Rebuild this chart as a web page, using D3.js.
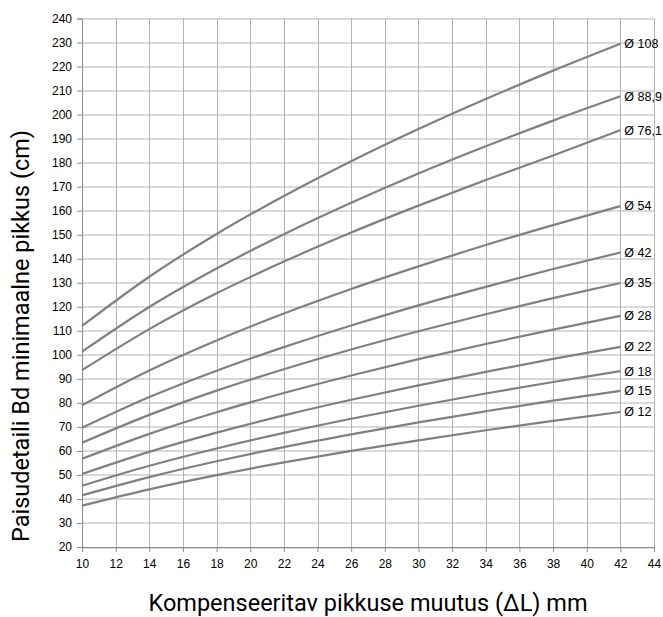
<!DOCTYPE html>
<html lang="et">
  <head>
    <meta charset="UTF-8" />
    <title>Paisudetaili Bd minimaalne pikkus</title>
    <style>
      body {
        margin: 0;
        background: #fff;
      }
      svg {
        display: block;
      }
      .tick text {
        font: 12px 'Liberation Sans', sans-serif;
        fill: #000;
      }
      .title {
        font: 23.5px Roboto, sans-serif;
        fill: #000;
      }
      .lbl {
        font: 12.5px 'Liberation Sans', sans-serif;
        fill: #000;
      }
    </style>
  </head>
  <body>
    <svg width="663" height="617"></svg>
    <script src="https://cdn.jsdelivr.net/npm/d3@7"></script>
    <script>
      // values at every 4 mm
      const deltaL = [10, 14, 18, 22, 26, 30, 34, 38, 42];
      const diameters = ['108', '88,9', '76,1', '54', '42', '35', '28', '22', '18', '15', '12'];
      const d108 = [112, 132.5, 150.3, 166.1, 180.6, 194.0, 206.5, 218.3, 229.5];
      const d889 = [101.3, 119.9, 135.9, 150.2, 163.3, 175.5, 186.8, 197.5, 207.6];
      const d761 = [93.6, 110.7, 125.6, 138.8, 150.9, 162.1, 172.8, 183, 193.5];
      const d54 = [79, 93.5, 106, 117.2, 127.4, 136.8, 145.7, 154, 161.9];
      const d42 = [69.6, 82.4, 93.4, 103.2, 112.2, 120.6, 128.3, 135.7, 142.6];
      const d35 = [63.4, 75, 85.1, 94, 102.2, 109.8, 116.9, 123.6, 129.9];
      const d28 = [56.7, 67.1, 76.1, 84.1, 91.4, 98.2, 104.5, 110.5, 116.2];
      const d22 = [50.4, 59.6, 67.6, 74.8, 81.3, 87.3, 92.9, 98.3, 103.3];
      const d18 = [45.5, 53.8, 61.0, 67.5, 73.4, 78.8, 83.9, 88.7, 93.2];
      const d15 = [41.5, 49.1, 55.7, 61.6, 66.9, 71.9, 76.5, 80.9, 85];
      const d12 = [37.2, 44, 49.9, 55.2, 60, 64.4, 68.6, 72.5, 76.2];
      const series = [d108, d889, d761, d54, d42, d35, d28, d22, d18, d15, d12];
      const xTicks = d3.range(10, 45, 2);
      const yTicks = d3.range(20, 241, 10);

      const svg = d3.select('svg'),
        margin = { top: 18.5, right: 9, bottom: 70, left: 82 },
        width = +svg.attr('width') - margin.left - margin.right,
        height = +svg.attr('height') - margin.top - margin.bottom;

      const x = d3.scaleLinear().domain([10, 44]).range([0, width]);
      const y = d3.scaleLinear().domain([20, 240]).range([height, 0]);

      const g = svg
        .append('g')
        .attr('transform', `translate(${margin.left},${margin.top})`);

      // grid
      g.append('g')
        .selectAll('line')
        .data(xTicks)
        .join('line')
        .attr('x1', (d) => Math.round(x(d)) + 0.5)
        .attr('x2', (d) => Math.round(x(d)) + 0.5)
        .attr('y1', 0)
        .attr('y2', height)
        .attr('stroke', '#b3b3b3');
      g.append('g')
        .selectAll('line')
        .data(yTicks)
        .join('line')
        .attr('y1', (d) => Math.round(y(d)) + 0.5)
        .attr('y2', (d) => Math.round(y(d)) + 0.5)
        .attr('x1', 0)
        .attr('x2', width)
        .attr('stroke', '#b3b3b3');

      const xAxis = g
        .append('g')
        .attr('transform', `translate(0,${height})`)
        .call(d3.axisBottom(x).tickValues(xTicks).tickSize(5).tickPadding(7));
      const yAxis = g
        .append('g')
        .call(d3.axisLeft(y).tickValues(yTicks).tickSize(5).tickPadding(5));
      [xAxis, yAxis].forEach((a) => {
        a.select('.domain').attr('stroke', '#8c8c8c');
        a.selectAll('.tick line').attr('stroke', '#8c8c8c');
      });

      const line = d3
        .line()
        .x((d, i) => x(deltaL[i]))
        .y((d) => y(d))
        .curve(d3.curveMonotoneX);

      g.append('g')
        .selectAll('path')
        .data(series)
        .join('path')
        .attr('d', line)
        .attr('fill', 'none')
        .attr('stroke', '#808080')
        .attr('stroke-width', 2.2);

      g.append('g')
        .selectAll('text')
        .data(series)
        .join('text')
        .attr('class', 'lbl')
        .attr('x', x(42) + 4)
        .attr('y', (d) => y(d[d.length - 1]))
        .attr('dy', '0.35em')
        .text((d, i) => 'Ø ' + diameters[i]);

      svg
        .append('text')
        .attr('class', 'title')
        .attr('text-anchor', 'middle')
        .attr('x', 368)
        .attr('y', 611)
        .text('Kompenseeritav pikkuse muutus (ΔL) mm');

      svg
        .append('text')
        .attr('class', 'title')
        .attr('text-anchor', 'middle')
        .attr('transform', 'translate(29,336) rotate(-90)')
        .text('Paisudetaili Bd minimaalne pikkus (cm)');
    </script>
  </body>
</html>
